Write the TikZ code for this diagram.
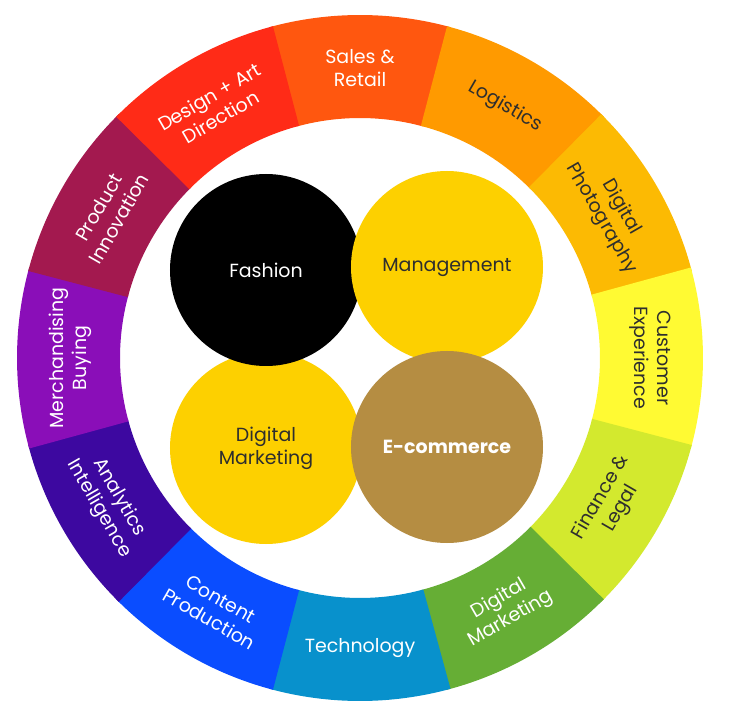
\documentclass[tikz,border=0pt]{standalone}
\usepackage{fontspec}
\setmainfont{Poppins}
\definecolor{salesc}{HTML}{FF570F}
\definecolor{logisticsc}{HTML}{FF9A00}
\definecolor{photoc}{HTML}{FCBA03}
\definecolor{customerc}{HTML}{FFFA33}
\definecolor{financec}{HTML}{D3E92E}
\definecolor{digmarkc}{HTML}{66AE35}
\definecolor{techc}{HTML}{0891CC}
\definecolor{contentc}{HTML}{0A4DFF}
\definecolor{analyticsc}{HTML}{3D08A0}
\definecolor{merchc}{HTML}{8A0EB8}
\definecolor{productc}{HTML}{A3194F}
\definecolor{designc}{HTML}{FF2B17}
\definecolor{goldc}{HTML}{FDD000}
\definecolor{brownc}{HTML}{B58D42}
\definecolor{darktext}{HTML}{2E2E2E}
\tikzset{
  seglabel/.style={font=\fontsize{19}{23}\selectfont,align=center,inner sep=0pt},
  bubble/.style={circle,minimum size=192pt,inner sep=0pt,align=center,
    font=\fontsize{19}{23}\selectfont}
}
\begin{document}
\begin{tikzpicture}[x=1pt,y=1pt]
  \useasboundingbox (-360,-359) rectangle (371,358);
  \fill[white] (-360,-359) rectangle (371,358);

  % outer ring, one sector per field
  \foreach \a/\c/\t/\r/\l [count=\i] in {
      90/salesc/white/0/{Sales \&\\Retail},
      60/logisticsc/darktext/-30/{Logistics},
      30/photoc/darktext/-60/{Digital\\Photography},
      0/customerc/darktext/-90/{Customer\\Experience},
      -30/financec/darktext/60/{Finance \&\\Legal},
      -60/digmarkc/white/30/{Digital\\Marketing},
      -90/techc/white/0/{Technology},
      -120/contentc/white/-30/{Content\\Production},
      -150/analyticsc/white/-60/{Analytics\\Intelligence},
      180/merchc/white/90/{Merchandising\\Buying},
      150/productc/white/60/{Product\\Innovation},
      120/designc/white/30/{Design + Art\\Direction}}{
    \fill[\c] (\a-15.3:343) arc (\a-15.3:\a+15.3:343)
      -- (\a+15.3:240) arc (\a+15.3:\a-15.3:240) -- cycle;
    \node[seglabel,text=\t,rotate=\r] (seg\i) at (\a:290) {\l};
  }

  % the four inner fields
  \node[bubble,fill=goldc,text=darktext] (digmark) at (-94,-90) {Digital\\Marketing};
  \node[bubble,fill=black,text=white] (fashion) at (-94,88) {Fashion};
  \node[bubble,fill=goldc,text=darktext] (management) at (87,91) {Management};
  \node[bubble,fill=brownc,text=white,font=\fontsize{19}{23}\selectfont\bfseries]
    (ecommerce) at (87,-89) {E-commerce};
\end{tikzpicture}
\end{document}
